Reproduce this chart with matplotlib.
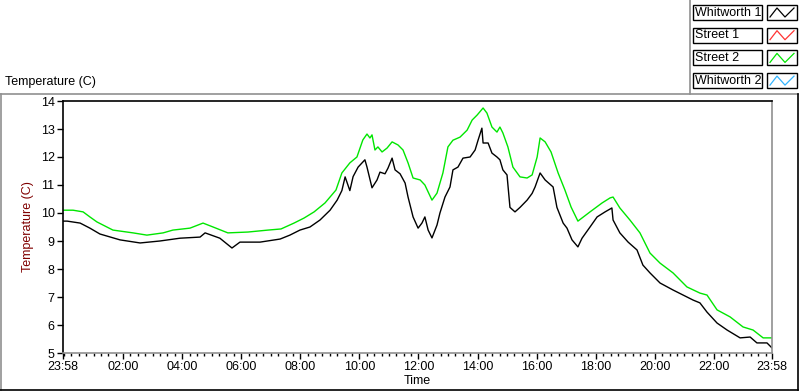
import numpy as np
import matplotlib
matplotlib.use("Agg")
import matplotlib.pyplot as plt
from matplotlib.lines import Line2D
from matplotlib.patches import Rectangle

# hours elapsed since 23:58 and temperature (C)
w1_hours = [0.00, 0.14, 0.58, 0.91, 1.25, 1.93, 2.61, 3.28, 3.96, 4.64, 4.81, 5.31, 5.72, 5.99,
            6.67, 7.35, 7.68, 8.02, 8.36, 8.70, 9.04, 9.28, 9.44, 9.55, 9.71, 9.82, 9.99, 10.22,
            10.29, 10.46, 10.63, 10.73, 10.90, 11.00, 11.14, 11.24, 11.41, 11.58, 11.68, 11.85,
            12.02, 12.15, 12.25, 12.36, 12.49, 12.66, 12.76, 12.93, 13.10, 13.20, 13.37, 13.54,
            13.78, 13.95, 14.05, 14.18, 14.22, 14.39, 14.52, 14.69, 14.79, 14.89, 15.03, 15.13,
            15.30, 15.47, 15.71, 15.88, 15.98, 16.15, 16.32, 16.59, 16.72, 16.93, 17.06, 17.23,
            17.43, 17.57, 17.84, 18.08, 18.35, 18.58, 18.62, 18.85, 19.13, 19.43, 19.63, 19.87,
            20.21, 20.65, 20.99, 21.33, 21.56, 21.80, 22.14, 22.48, 22.92, 23.26, 23.49, 23.83, 24.00]
w1_temp = [9.71, 9.71, 9.64, 9.46, 9.25, 9.04, 8.93, 9.00, 9.10, 9.14, 9.29, 9.10, 8.75, 8.96,
           8.96, 9.07, 9.21, 9.39, 9.50, 9.75, 10.10, 10.46, 10.80, 11.29, 10.80, 11.30, 11.64, 11.90,
           11.64, 10.90, 11.18, 11.46, 11.40, 11.60, 11.96, 11.54, 11.40, 11.07, 10.57, 9.86,
           9.46, 9.64, 9.86, 9.39, 9.11, 9.57, 10.00, 10.57, 10.93, 11.54, 11.64, 11.96,
           12.00, 12.25, 12.60, 13.03, 12.50, 12.50, 12.14, 12.00, 11.90, 11.54, 11.36, 10.20,
           10.04, 10.20, 10.46, 10.70, 10.93, 11.43, 11.18, 10.93, 10.20, 9.64, 9.46, 9.04,
           8.79, 9.10, 9.50, 9.86, 10.04, 10.18, 9.75, 9.29, 8.96, 8.68, 8.14, 7.86,
           7.50, 7.25, 7.07, 6.89, 6.79, 6.46, 6.07, 5.82, 5.54, 5.57, 5.36, 5.36, 5.18]

s2_hours = [0.00, 0.34, 0.68, 0.91, 1.15, 1.69, 2.37, 2.84, 3.39, 3.72, 4.30, 4.74, 5.08, 5.58,
            6.26, 6.94, 7.38, 7.82, 8.16, 8.50, 8.87, 9.24, 9.44, 9.71, 9.95, 10.15, 10.29, 10.39,
            10.46, 10.56, 10.66, 10.80, 10.97, 11.14, 11.34, 11.51, 11.68, 11.85, 12.09, 12.25,
            12.49, 12.66, 12.86, 13.03, 13.20, 13.44, 13.68, 13.85, 14.02, 14.22, 14.35, 14.52,
            14.69, 14.79, 14.89, 15.06, 15.23, 15.47, 15.71, 15.88, 16.05, 16.15, 16.32, 16.52,
            16.76, 16.99, 17.20, 17.43, 17.84, 18.25, 18.52, 18.62, 18.85, 19.19, 19.53, 19.87,
            20.21, 20.65, 21.12, 21.56, 21.80, 22.14, 22.58, 23.02, 23.36, 23.70, 24.00]
s2_temp = [10.10, 10.10, 10.04, 9.86, 9.68, 9.39, 9.29, 9.21, 9.29, 9.39, 9.46, 9.64, 9.50, 9.29,
           9.32, 9.39, 9.43, 9.64, 9.82, 10.04, 10.36, 10.82, 11.43, 11.79, 12.00, 12.61, 12.82, 12.68,
           12.79, 12.25, 12.36, 12.18, 12.32, 12.54, 12.43, 12.25, 11.79, 11.25, 11.18, 11.00,
           10.46, 10.71, 11.43, 12.36, 12.60, 12.71, 12.96, 13.32, 13.50, 13.75, 13.57, 13.07,
           12.89, 13.07, 12.86, 12.36, 11.64, 11.29, 11.25, 11.36, 12.00, 12.68, 12.54, 12.18,
           11.43, 10.82, 10.21, 9.71, 10.04, 10.36, 10.54, 10.57, 10.18, 9.75, 9.29, 8.57,
           8.21, 7.86, 7.36, 7.14, 7.07, 6.54, 6.29, 5.93, 5.82, 5.54, 5.54]

tick_hours = [0.0, 2.0333, 4.0333, 6.0333, 8.0333, 10.0333, 12.0333, 14.0333, 16.0333,
              18.0333, 20.0333, 22.0333, 24.0]
tick_labels = ["23:58", "02:00", "04:00", "06:00", "08:00", "10:00", "12:00", "14:00",
               "16:00", "18:00", "20:00", "22:00", "23:58"]

legend_names = ["Whitworth 1", "Street 1", "Street 2", "Whitworth 2"]
legend_colors = ["black", "#ff3333", "#00e600", "#33b5ff"]

plt.rcParams['font.family'] = ['Liberation Sans', 'DejaVu Sans']
FS = 9
fig = plt.figure(figsize=(8, 3.92), dpi=100)
W, H = 800.0, 392.0
ax = fig.add_axes([63 / W, (H - 353) / H, (772 - 63) / W, (353 - 101) / H])

ax.plot(s2_hours, s2_temp, color="#00e600", lw=1.0)
ax.plot(w1_hours, w1_temp, color="black", lw=1.0)

ax.set_xlim(0, 24)
ax.set_ylim(5, 14)
ax.set_yticks(range(5, 15))
ax.set_xticks(tick_hours)
ax.set_xticklabels(tick_labels)
ax.set_xticks(np.arange(0.0333, 24, 0.25), minor=True)
ax.tick_params(axis="both", labelsize=FS, direction="out", length=4, width=1, pad=2)
ax.tick_params(axis="x", which="minor", length=2.5, width=1)
ax.set_xlabel("Time", fontsize=FS, labelpad=1)
ax.set_ylabel("Temperature (C)", fontsize=FS, color="#800000", labelpad=5)

ax.spines["left"].set_color("black")
ax.spines["top"].set_color("black")
ax.spines["right"].set_color("#909090")
ax.spines["bottom"].set_color("#909090")
for s in ax.spines.values():
    s.set_linewidth(1.2)

# outer panel frame
def fline(x0, y0, x1, y1, c, lw=1.2):
    fig.add_artist(Line2D([x0 / W, x1 / W], [1 - y0 / H, 1 - y1 / H], color=c, lw=lw,
                          transform=fig.transFigure))

fline(0, 94, 798, 94, "#909090")
fline(1, 94, 1, 390, "#909090")
fline(0, 389.5, 798, 389.5, "black")
fline(798, 94, 798, 390, "black")
fline(690, 0, 690, 94, "#909090")

fig.text(5 / W, 1 - 82 / H, "Temperature (C)", fontsize=FS, va="center", ha="left")

# plot legend
for i, (name, col) in enumerate(zip(legend_names, legend_colors)):
    top = 5 + i * 22.7
    fig.add_artist(Rectangle((693 / W, 1 - (top + 15) / H), 69 / W, 15 / H,
                             transform=fig.transFigure, fill=False, ec="black", lw=1))
    fig.text(695 / W, 1 - (top + 7.5) / H, name, fontsize=FS, va="center", ha="left")
    fig.add_artist(Rectangle((767 / W, 1 - (top + 15) / H), 30 / W, 15 / H,
                             transform=fig.transFigure, fill=False, ec="black", lw=1))
    zx = [770, 777, 785, 794]
    zy = [top + 12, top + 3, top + 12, top + 3]
    fig.add_artist(Line2D([v / W for v in zx], [1 - v / H for v in zy], color=col, lw=0.9,
                          transform=fig.transFigure))

fig.savefig("out.png", dpi=100)
